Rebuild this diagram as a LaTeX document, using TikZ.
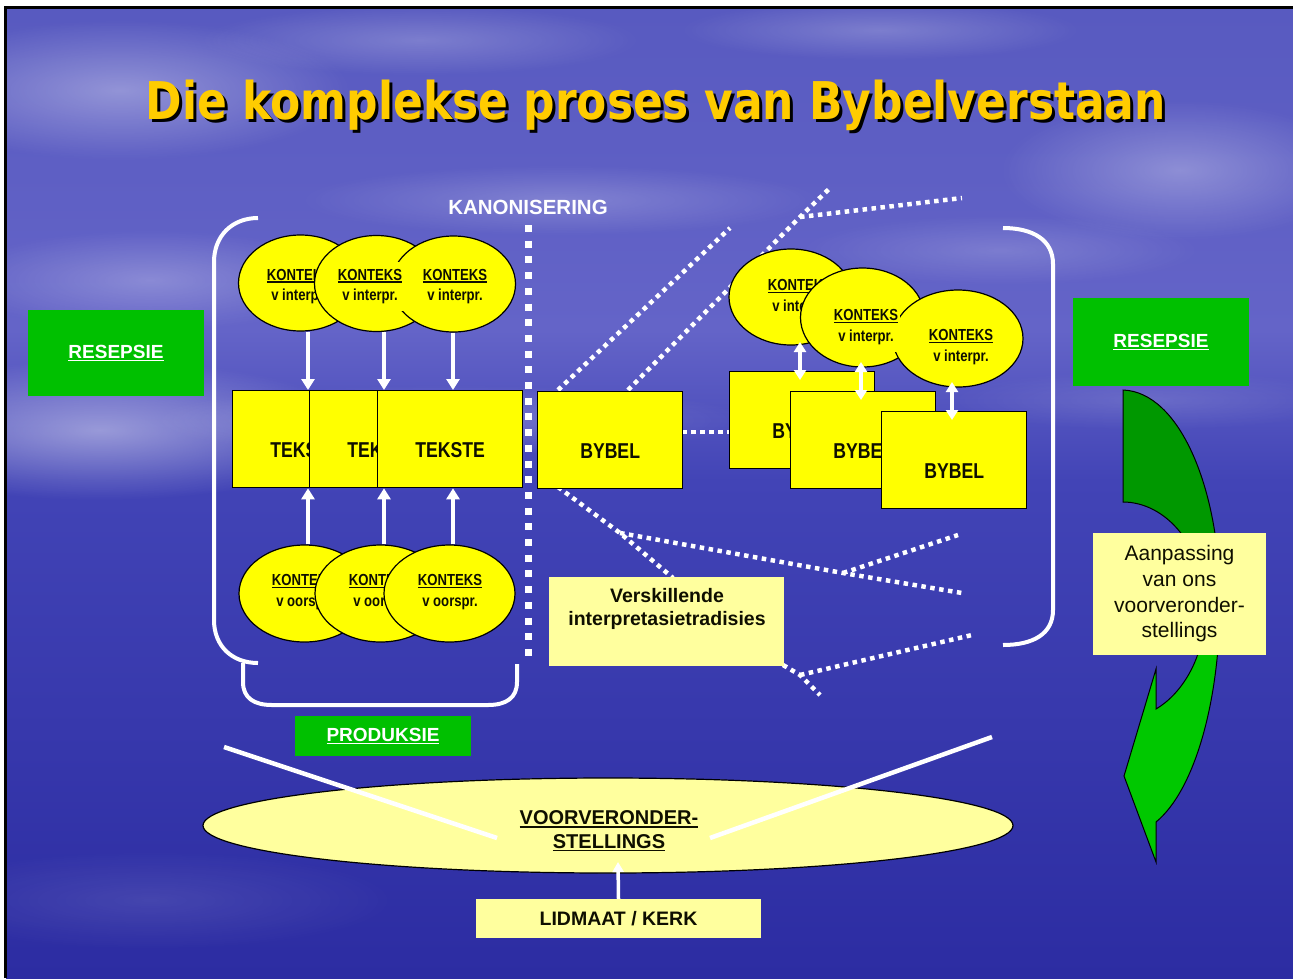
\documentclass[tikz,border=0pt]{standalone}
\usepackage{fontspec}
\setmainfont{Liberation Sans}
\newfontfamily\titlefont{DejaVu Sans}
\usepackage{graphicx}
\usetikzlibrary{arrows.meta,shapes.geometric,fadings}
\definecolor{byellow}{RGB}{255,255,0}
\definecolor{pyellow}{RGB}{255,255,158}
\definecolor{bgreen}{RGB}{0,192,0}
\definecolor{agreenL}{RGB}{0,200,0}
\definecolor{agreenD}{RGB}{0,152,0}
\definecolor{tyellow}{RGB}{255,204,0}
\definecolor{txt}{RGB}{15,15,0}
\definecolor{bgA}{RGB}{88,90,192}
\definecolor{bgB}{RGB}{100,100,200}
\definecolor{bgC}{RGB}{66,68,182}
\definecolor{bgD}{RGB}{44,44,162}
\tikzfading[name=softblob, inner color=transparent!15, outer color=transparent!100]
\newcommand\nar[1]{\scalebox{0.82}[1]{#1}}
\newcommand\ulx[1]{\setbox0\hbox{#1}\rlap{\rule[-2.6pt]{\wd0}{1.4pt}}\box0}
\newcommand\titletext{\resizebox{1020pt}{\height}{\titlefont\bfseries\fontsize{52}{60}\selectfont Die komplekse proses van Bybelverstaan}}
\newcommand\shadowtitle{\rlap{\hspace{3pt}\raisebox{-3pt}{\color{black}\titletext}}{\color{tyellow}\titletext}}
\begin{document}
\begin{tikzpicture}[x=1pt,y=-1pt,
 ybox/.style={draw=black,line width=1.3pt,fill=byellow,minimum width=145pt,minimum height=97pt,inner sep=0pt,anchor=north west},
 yell/.style={ellipse,draw=black,line width=1.2pt,fill=byellow,inner sep=0pt,minimum width=124pt,minimum height=96pt},
 ktxt/.style={align=center,text=txt,inner sep=0pt,font=\bfseries\fontsize{16}{20.5}\selectfont},
 ktxtfill/.style={ktxt,fill=byellow,inner xsep=2pt,inner ysep=7pt},
 btxt/.style={text=txt,inner sep=0pt,font=\bfseries\fontsize{21.5}{24}\selectfont},
 gbox/.style={fill=bgreen,text=white,inner sep=0pt,font=\bfseries\fontsize{19}{22}\selectfont},
 pbox/.style={fill=pyellow,inner sep=0pt},
 warrow/.style={draw=white,line width=4pt,-{Triangle[width=13pt,length=11pt]}},
 dblarrow/.style={draw=white,line width=4pt,{Triangle[width=12pt,length=10pt]}-{Triangle[width=12pt,length=10pt]}},
 wdots/.style={draw=white,line width=4.5pt,dash pattern=on 4.5pt off 4.5pt},
 bracket/.style={draw=white,line width=4pt},
 cloudblob/.style={fill=white,path fading=softblob}
]
% ---------- background ----------
\fill[white] (0,0) rectangle (1293,978);
\useasboundingbox (0,0) rectangle (1293,978);
\shade[top color=bgA,bottom color=bgB] (6,9) rectangle (1293,331);
\shade[top color=bgB,bottom color=bgC] (6,330) rectangle (1293,481);
\shade[top color=bgC,bottom color=bgD] (6,480) rectangle (1293,978);
\fill[cloudblob,opacity=0.40] (120,90) ellipse (230 and 70);
\fill[cloudblob,opacity=0.25] (420,40) ellipse (220 and 35);
\fill[cloudblob,opacity=0.25] (560,200) ellipse (260 and 35);
\fill[cloudblob,opacity=0.25] (880,30) ellipse (200 and 30);
\fill[cloudblob,opacity=0.35] (1180,170) ellipse (180 and 70);
\fill[cloudblob,opacity=0.20] (1000,250) ellipse (200 and 35);
\fill[cloudblob,opacity=0.30] (150,280) ellipse (200 and 50);
\fill[cloudblob,opacity=0.50] (100,430) ellipse (260 and 70);
\fill[cloudblob,opacity=0.25] (450,420) ellipse (300 and 35);
\fill[cloudblob,opacity=0.15] (1150,400) ellipse (200 and 30);
\fill[cloudblob,opacity=0.12] (150,900) ellipse (250 and 50);
\draw[black,line width=3pt] (5,978) -- (5,7.5) -- (1293,7.5);
% ---------- title ----------
\node[inner sep=0pt] (title) at (656,107) {\shadowtitle};
% ---------- kanonisering ----------
\node[text=white,inner sep=0pt,font=\bfseries\fontsize{20.5}{24}\selectfont] (kan) at (528,207) {KANONISERING};
\coordinate (kanA) at (528,225);
\coordinate (kanB) at (528,661);
\draw[white,line width=7pt,dash pattern=on 7pt off 8.7pt] (kanA) -- (kanB);
% ---------- brackets ----------
\draw[bracket] (258,218) .. controls (232,218) and (214,236) .. (214,262) -- (214,620) .. controls (214,646) and (232,663) .. (258,663);
\draw[bracket] (243,663) -- (243,682) .. controls (243,698) and (254,705) .. (272,705) -- (488,705) .. controls (506,705) and (517,698) .. (517,682) -- (517,664);
\draw[bracket] (1003,228) .. controls (1033,228) and (1053,240) .. (1053,264) -- (1053,610) .. controls (1053,634) and (1033,645) .. (1003,645);
% ---------- dotted lines ----------
\coordinate (p1) at (558,390); \coordinate (p1e) at (730,228);
\coordinate (p2) at (628,390); \coordinate (j2) at (800,217);
\coordinate (p2e) at (830,188); \coordinate (p3e) at (962,198);
\coordinate (p4) at (682,432); \coordinate (p4e) at (729,432);
\coordinate (p5) at (558,487); \coordinate (j5) at (620,533); \coordinate (p5e) at (673,578);
\coordinate (j6) at (843,573); \coordinate (p6e) at (962,593); \coordinate (p7e) at (958,535);
\coordinate (p8) at (783,665); \coordinate (j8) at (800,675);
\coordinate (p8e) at (820,695); \coordinate (p9e) at (972,635);
\draw[wdots] (p1) -- (p1e);
\draw[wdots] (p2) -- (j2) -- (p2e);
\draw[wdots] (j2) -- (p3e);
\draw[wdots] (p4) -- (p4e);
\draw[wdots] (p5) -- (j5) -- (p5e);
\draw[wdots] (j5) -- (j6) -- (p6e);
\draw[wdots] (j6) -- (p7e);
\draw[wdots] (p8) -- (j8) -- (p8e);
\draw[wdots] (j8) -- (p9e);
% ---------- left: contexts of interpretation ----------
\node[yell] (ki1) at (300.5,283) {};
\node[ktxt] (ki1t) at (299,286.5) {\ulx{\nar{KONTEKS}}\\\nar{v interpr.}};
\node[yell] (ki2) at (376.5,283.5) {};
\node[yell] (ki3) at (453.5,284) {};
\node[ktxtfill] (ki2t) at (370,286.5) {\ulx{\nar{KONTEKS}}\\\nar{v interpr.}};
\node[ktxt] (ki3t) at (455,286.5) {\ulx{\nar{KONTEKS}}\\\nar{v interpr.}};
% texts
\node[ybox] (t1) at (232,390) {};
\node[btxt,yshift=-11pt] (t1t) at (t1.center) {\nar{TEKSTE}};
\node[ybox] (t2) at (309,390) {};
\node[btxt,yshift=-11pt] (t2t) at (t2.center) {\nar{TEKSTE}};
\node[ybox] (t3) at (377,390) {};
\node[btxt,yshift=-11pt] (t3t) at (t3.center) {\nar{TEKSTE}};
% contexts of origin
\node[yell,minimum width=131pt,minimum height=97pt] (kb1) at (304.5,593.5) {};
\node[ktxt] (kb1t) at (304,592) {\ulx{\nar{KONTEKS}}\\\nar{v oorspr.}};
\node[yell,minimum width=131pt,minimum height=97pt] (kb2) at (380.5,593.5) {};
\node[ktxt] (kb2t) at (381,592) {\ulx{\nar{KONTEKS}}\\\nar{v oorspr.}};
\node[yell,minimum width=131pt,minimum height=97pt] (kb3) at (449.5,593.5) {};
\node[ktxt] (kb3t) at (450,592) {\ulx{\nar{KONTEKS}}\\\nar{v oorspr.}};
% arrows
\coordinate (a1s) at ([xshift=7.5pt]ki1.south);
\coordinate (a2s) at ([xshift=7.5pt]ki2.south);
\coordinate (a3s) at ([xshift=-0.5pt]ki3.south);
\draw[warrow] (a1s) -- (a1s |- t1.north);
\draw[warrow] (a2s) -- (a2s |- t2.north);
\draw[warrow] (a3s) -- (a3s |- t3.north);
\coordinate (b1s) at ([xshift=3.5pt]kb1.north);
\coordinate (b2s) at ([xshift=3.5pt]kb2.north);
\coordinate (b3s) at ([xshift=3.5pt]kb3.north);
\draw[warrow] (b1s) -- (b1s |- t1.south);
\draw[warrow] (b2s) -- (b2s |- t2.south);
\draw[warrow] (b3s) -- (b3s |- t3.south);
% ---------- middle Bible ----------
\node[ybox] (bm) at (537,391) {};
\node[btxt,yshift=-11pt] (bmt) at (bm.center) {\nar{BYBEL}};
% ---------- right cluster ----------
\node[yell] (kr1) at (791,297) {};
\node[ktxt] (kr1t) at (800,297) {\ulx{\nar{KONTEKS}}\\\nar{v interpr.}};
\node[yell,minimum height=99pt] (kr2) at (862.5,317.5) {};
\node[yell,minimum width=130pt,minimum height=97pt] (kr3) at (958,338.5) {};
\node[ktxtfill] (kr2t) at (866,327) {\ulx{\nar{KONTEKS}}\\\nar{v interpr.}};
\node[ktxt] (kr3t) at (961,347) {\ulx{\nar{KONTEKS}}\\\nar{v interpr.}};
\node[ybox] (br1) at (729,371) {};
\node[btxt,yshift=-11pt] (br1t) at (br1.center) {\nar{BYBEL}};
\node[ybox] (br2) at (790,391) {};
\node[btxt,yshift=-11pt] (br2t) at (br2.center) {\nar{BYBEL}};
\node[ybox] (br3) at (881,411) {};
\node[btxt,yshift=-11pt] (br3t) at (br3.center) {\nar{BYBEL}};
\coordinate (da1) at (800,342); \coordinate (db1) at (800,380);
\coordinate (da2) at (861,362); \coordinate (db2) at (861,400);
\coordinate (da3) at (952,382); \coordinate (db3) at (952,420);
\draw[dblarrow] (da1) -- (db1);
\draw[dblarrow] (da2) -- (db2);
\draw[dblarrow] (da3) -- (db3);
% ---------- interpretation traditions ----------
\node[pbox,minimum width=235pt,minimum height=89pt] (vt) at (666.5,621.5) {};
\node[align=center,text=txt,inner sep=0pt,font=\bfseries\fontsize{19.5}{23}\selectfont] (vtt) at (667,609) {Verskillende\\interpretasietradisies};
% ---------- green boxes ----------
\node[gbox,minimum width=176pt,minimum height=86pt] (resL) at (116,353) {\ulx{RESEPSIE}};
\node[gbox,minimum width=176pt,minimum height=88pt] (resR) at (1161,342) {\ulx{RESEPSIE}};
\node[gbox,minimum width=176pt,minimum height=40pt] (prod) at (383,736) {\ulx{PRODUKSIE}};
% ---------- green curved arrow ----------
\def\garrow{(1123,390) .. controls (1180,392) and (1220,490) .. (1220,600) .. controls (1220,700) and (1195,790) .. (1156,822) -- (1156,862) -- (1124,776) -- (1156,669) -- (1156,709) .. controls (1180,695) and (1205,660) .. (1205,610) .. controls (1205,545) and (1165,502) .. (1123,502) -- cycle}
\fill[agreenL] \garrow;
\begin{scope}
\clip (1100,380) rectangle (1240,600);
\fill[agreenD] \garrow;
\end{scope}
\draw[black,line width=1pt,line join=miter] \garrow;
\node[pbox,minimum width=173pt,minimum height=122pt,align=center,text=txt,font=\fontsize{21}{25.7}\selectfont] (aan) at (1179.5,594) {Aanpassing\\van ons\\voorveronder-\\stellings};
% ---------- presuppositions ----------
\node[ellipse,draw=black,line width=1.2pt,fill=pyellow,minimum width=810pt,minimum height=95pt,inner sep=0pt] (voor) at (608,825.5) {};
\node[align=center,text=txt,inner sep=0pt,font=\bfseries\fontsize{20}{23.5}\selectfont] (voort) at (609,831) {\ulx{VOORVERONDER-}\\\ulx{STELLINGS}};
\coordinate (wl1) at (224,747); \coordinate (wl2) at (497,838);
\coordinate (wr1) at (710,838); \coordinate (wr2) at (992,737);
\draw[white,line width=4.5pt] (wl1) -- (wl2);
\draw[white,line width=4.5pt] (wr1) -- (wr2);
\node[pbox,minimum width=285pt,minimum height=39pt,text=txt,font=\bfseries\fontsize{19.5}{22}\selectfont] (lid) at (618.5,918.5) {LIDMAAT / KERK};
\coordinate (lidtip) at (618,862);
\draw[white,line width=3.5pt,-{Triangle[width=11pt,length=10pt]}] (lid.north) -- (lidtip);
\end{tikzpicture}
\end{document}
